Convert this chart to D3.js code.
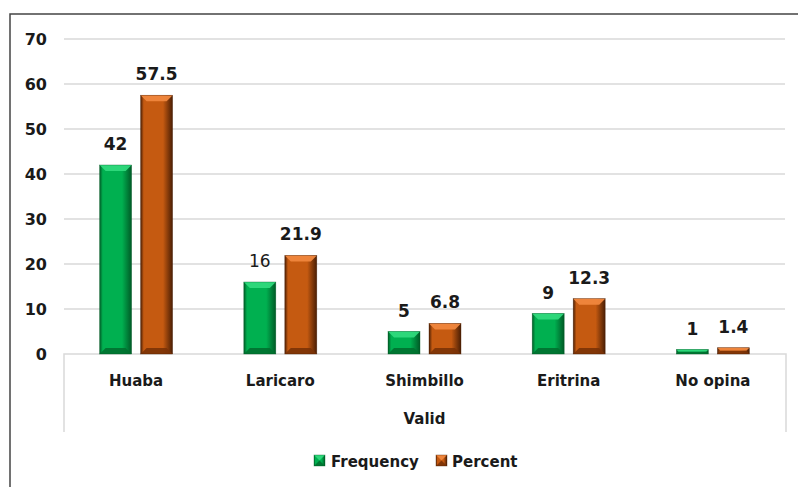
<!DOCTYPE html>
<html><head><meta charset="utf-8">
<script src="https://cdn.jsdelivr.net/npm/d3@7/dist/d3.min.js"></script>
<style>html,body{margin:0;padding:0;background:#fff;}svg{display:block;}</style>
</head><body><svg id="c" width="798" height="487"></svg>
<script>
const categories = ["Huaba", "Laricaro", "Shimbillo", "Eritrina", "No opina"];
const frequency = [42, 16, 5, 9, 1];
const percent = [57.5, 21.9, 6.8, 12.3, 1.4];
const seriesNames = ["Frequency", "Percent"];
const yTicks = [0, 10, 20, 30, 40, 50, 60, 70];
const axisTitle = "Valid";

const svg = d3.select("#c");
const font = "'DejaVu Sans', Verdana, sans-serif";
const x0 = d3.scaleBand().domain(categories).range([64, 785]);
const y = d3.scaleLinear().domain([0, 70]).range([354, 39]);
const barW = 32, offs = [-20.5, 20.5];

const pal = [
  {main:"#00b050", light:"#3ee38a", dark:"#005a26", top:"#2fd97c", bot:"#00702f"},
  {main:"#c55a11", light:"#f08a40", dark:"#4a1e04", top:"#f0873e", bot:"#7a3207"}
];
const defs = svg.append("defs");
pal.forEach((p,i)=>{
  const g = defs.append("linearGradient").attr("id","g"+i).attr("x1","0").attr("x2","1").attr("y1","0").attr("y2","0");
  g.append("stop").attr("offset","0").attr("stop-color",p.dark);
  g.append("stop").attr("offset","0.1").attr("stop-color",p.main);
  g.append("stop").attr("offset","0.7").attr("stop-color",p.main);
  g.append("stop").attr("offset","1").attr("stop-color",p.dark);
});

// outer border
svg.append("rect").attr("x",10).attr("y",14).attr("width",820).attr("height",520)
  .attr("fill","none").attr("stroke","#444").attr("stroke-width",1.5);

// gridlines
svg.append("g").selectAll("line").data(yTicks.filter(d=>d>0)).join("line")
  .attr("x1",64).attr("x2",785).attr("y1",d=>y(d)).attr("y2",d=>y(d))
  .attr("stroke","#d9d9d9").attr("stroke-width",1.5);

// y axis labels
const yAxis = d3.axisLeft(y).tickValues(yTicks).tickSize(0).tickPadding(0);
const ya = svg.append("g").attr("transform","translate(47,0)").call(yAxis);
ya.select(".domain").remove();
ya.selectAll("text").attr("font-family",font).attr("font-weight","bold").attr("font-size",16).attr("fill","#1a1a1a").attr("dy","0.35em");

// category axis box
svg.append("path").attr("d",`M64,432V${y(0)}H786V432`).attr("fill","none").attr("stroke","#d9d9d9").attr("stroke-width",1.5);

const xAxis = d3.axisBottom(x0).tickSize(0).tickPadding(0);
const xa = svg.append("g").attr("transform","translate(0,386)").call(xAxis);
xa.select(".domain").remove();
xa.selectAll("text").attr("font-family",font).attr("font-weight","bold").attr("font-size",15).attr("fill","#1a1a1a").attr("y",0).attr("dy",0);

svg.append("text").attr("x",(64+785)/2).attr("y",424).attr("text-anchor","middle")
  .attr("font-family",font).attr("font-weight","bold").attr("font-size",15).attr("fill","#1a1a1a").text(axisTitle);

// bars
function bevelBar(g, x, top, w, h, i){
  const p = pal[i];
  g.append("rect").attr("x",x).attr("y",top).attr("width",w).attr("height",h).attr("fill",`url(#g${i})`);
  const b = Math.min(6, h/2, w/2);
  g.append("path").attr("d",`M${x},${top}H${x+w}L${x+w-b},${top+b}H${x+b}Z`).attr("fill",p.top).attr("opacity",0.95);
  g.append("path").attr("d",`M${x},${top+h}H${x+w}L${x+w-b},${top+h-b}H${x+b}Z`).attr("fill",p.bot).attr("opacity",0.9);
  g.append("rect").attr("x",x).attr("y",top).attr("width",w).attr("height",h).attr("fill","none").attr("stroke",p.dark).attr("stroke-width",0.6).attr("opacity",0.6);
}
const series = [frequency, percent];
series.forEach((vals,i)=>{
  const g = svg.append("g");
  vals.forEach((v,j)=>{
    const cx = x0(categories[j]) + x0.bandwidth()/2 + offs[i];
    bevelBar(g, cx - barW/2, y(v), barW, y(0)-y(v), i);
    svg.append("text").attr("x",cx).attr("y",y(v)-15).attr("text-anchor","middle")
      .attr("font-family",font).attr("font-weight",(i===0&&j===1)?"normal":"bold").attr("font-size",17).attr("fill","#1a1a1a").text(v);
  });
});

// legend
const leg = [{x:314, tx:331},{x:436, tx:452}];
seriesNames.forEach((n,i)=>{
  const g = svg.append("g");
  bevelBar(g, leg[i].x, 455, 11, 11, i);
  svg.append("text").attr("x",leg[i].tx).attr("y",467).attr("font-family",font).attr("font-weight","bold")
    .attr("font-size",15).attr("fill","#1a1a1a").text(n);
});
</script></body></html>
